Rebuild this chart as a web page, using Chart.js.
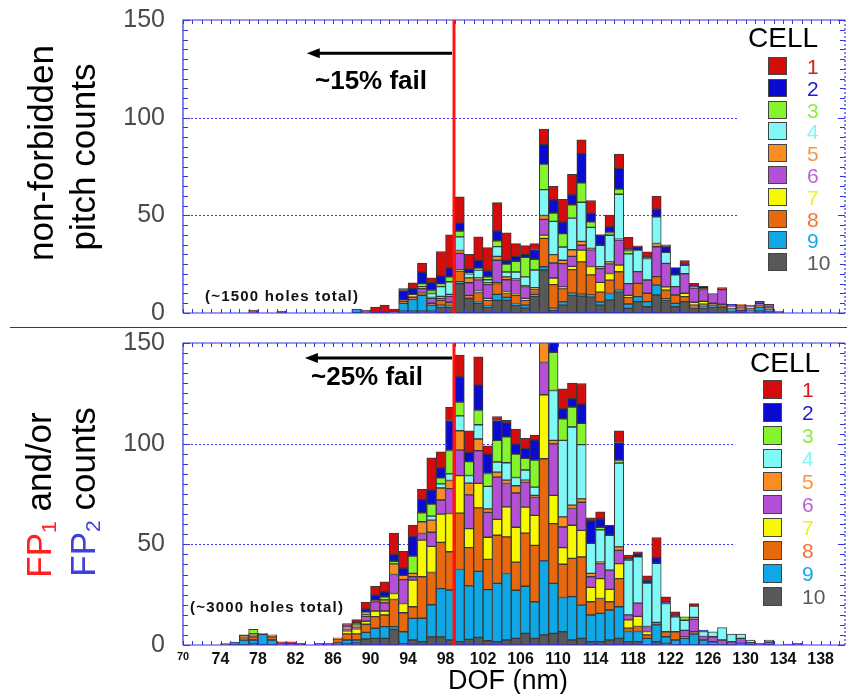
<!DOCTYPE html>
<html>
<head>
<meta charset="utf-8">
<title>DOF histograms by cell</title>
<script src="https://cdn.jsdelivr.net/npm/chart.js@4.4.1/dist/chart.umd.min.js"></script>
<style>
  html, body { margin: 0; padding: 0; background: #fff; }
  #page { position: relative; width: 847px; height: 694px; overflow: hidden;
          font-family: "Liberation Sans", Arial, Helvetica, sans-serif; color: #000; }
  .panel { position: absolute; left: 0; width: 847px; }
  #topPanel { top: 0; height: 327px; }
  #bottomPanel { top: 330px; height: 364px; }
  #divider { position: absolute; left: 10px; top: 327px; width: 837px; height: 0; border-top: 1.5px solid #3c3c3c; }
  .lbl { position: absolute; white-space: nowrap; line-height: 1; transform: translate(-50%, -50%); }
  .vlbl { position: absolute; white-space: nowrap; line-height: 1; font-size: 35px;
          transform: translate(-50%, -50%) rotate(-90deg); }
  .vlbl sub { font-size: 60%; vertical-align: -0.25em; }
  .fail { font-weight: bold; font-size: 26px; transform: translate(0, -50%); }
  .holes { font-weight: bold; font-size: 15px; letter-spacing: 1.2px; color: #111; transform: translate(0, -50%); }
  .swatch { position: absolute; border: 1.5px solid #444; box-sizing: border-box; }
  .cellnum { position: absolute; font-size: 21px; line-height: 1; transform: translateY(-50%); }
  .celltitle { position: absolute; font-size: 28px; line-height: 1; }
</style>
</head>
<body>
<div id="page">
  <div class="panel" id="topPanel"><canvas id="pitchChart"></canvas></div>
  <div class="panel" id="bottomPanel"><canvas id="fpChart"></canvas></div>
  <div id="divider"></div>

  <div class="vlbl" style="left:40px; top:153px;">non-forbidden</div>
  <div class="vlbl" style="left:82px; top:157px;">pitch counts</div>
  <div class="vlbl" style="left:40px; top:495px;"><span style="color:#ff2020">FP<sub>1</sub></span> and/or</div>
  <div class="vlbl" style="left:84px; top:492px;"><span style="color:#4040dd">FP<sub>2</sub></span> counts</div>

  <div class="lbl fail" style="left:315px; top:80px;">~15% fail</div>
  <div class="lbl holes" style="left:205px; top:295px;">(~1500 holes total)</div>
  <div class="lbl fail" style="left:311px; top:376px;">~25% fail</div>
  <div class="lbl holes" style="left:190px; top:606px;">(~3000 holes total)</div>
  <div class="lbl" style="left:508px; top:680px; font-size:27px;">DOF (nm)</div>
</div>

<script>
// 1 nm DOF bins, each bar spans [bin, bin+1)
const dofBins = [74, 75, 76, 77, 78, 79, 80, 81, 82, 83,
                 84, 85, 86, 87, 88, 89, 90, 91, 92, 93,
                 94, 95, 96, 97, 98, 99, 100, 101, 102, 103,
                 104, 105, 106, 107, 108, 109, 110, 111, 112, 113,
                 114, 115, 116, 117, 118, 119, 120, 121, 122, 123,
                 124, 125, 126, 127, 128, 129, 130, 131, 132, 133,
                 134, 135, 136];
const xTickValues = [70, 74, 78, 82, 86, 90, 94, 98, 102, 106, 110, 114, 118, 122, 126, 130, 134, 138];
const yTickValues = [0, 50, 100, 150];
const failDof = 98.9;

const cellNames = ['1', '2', '3', '4', '5', '6', '7', '8', '9', '10'];
const cellColors = ['#d40c0c', '#0a0ad0', '#84f52c', '#80f8f8', '#fb8c22',
                    '#b450d6', '#f8f800', '#e8680e', '#0ea8e6', '#585858'];
const cellTextColors = ['#e01818', '#1c1cd8', '#8cf040', '#88f4f4', '#fc9440',
                        '#b860e0', '#f0f020', '#f07434', '#18a8f0', '#5a5a5a'];

// non-forbidden pitch counts, per cell
const pitchC1 = [0,0,0,1,0,0,1,0,0,0, 0,0,0,0,0,1,3,4,1.5,1, 3,4.5,2.5,12.5,17,13.5,7.5,12,12,14.5, 14,6.5,4.5,3,8,6.8,11.6,10.6,7,6.6, 0.5,6,7.3,6,0.5,2.6,6.8,1,0,2, 1.4,0,0,1,0,0,0,0,0,0, 0,0,0];
const pitchC2 = [0,0,0,0,0,0,0,0,0,0, 0,0,0,0,0,0,0,0,0,5, 3,6,4,4,4.5,4,2,4,3,5, 2,2.5,1.5,5,10,6.8,6,5,15,4.3, 5,2.9,10.6,0.8,1.7,0.8,3.9,2.9,3.7,0.5, 0.5,1.2,0,0,0.5,0,0,1,0,0, 0,0,0];
const pitchC3 = [0,0,0,0,0,0,0,0,0,0, 0,0,0,0,0,0,0,0,0,0, 0,1.5,1.5,1.5,2.5,3,0.5,1,1.5,3, 4,5.5,10,5.5,13,4.3,6.8,6.8,9.9,2.9, 0,1.4,2.6,1.7,0,0,0,0,0,0, 0,0,0,0,0,0,0,0,0,0, 0,0,0];
const pitchC4 = [0,0,0,0,0,0,0,0,0,0, 0,0,0,0,0,0,0,0,0,0, 1,0,2,5,6.5,7,2,4,1.5,5, 2.5,3.5,4.5,9,13.3,17,6.8,16.2,20,10.7, 11,13.6,23,15.3,11,11,13.6,5.6,6,4.3, 0,0,0,0,0,0,0,0,0,0, 0,0,0];
const pitchC5 = [0,0,0,0,0,0,0,0,0,0, 0,0,0,0,0,0,0,0,0,0.5, 0.5,1,0.5,1,1,1.5,2.5,1,1,2, 1.5,0.5,0.5,1,2,4.3,1.7,3.4,2,0.8, 1,1,0.5,0,0,0,1.7,0,0,0, 0.5,0.5,0,0,0,0.5,0,0,0,0, 0,0,0];
const pitchC6 = [0,0,0,0.5,0,0,0,0,0,0, 0,0,0,0,0,0.5,0,0,0.5,0, 0,2,2.5,1,3,8.5,6.5,5.5,7,11.5, 6,7.5,6,0.5,8,7.7,12,5.1,2.5,8.5, 7,5,12.8,6,6,6.8,15.3,12,4.3,10, 7.3,6,5,7.5,1,1,1,1,1.5,0.5, 0,0,0];
const pitchC7 = [0,0,0,0,0,0,0,0,0,0, 0,0,0,0,0,0,0,0,0,0, 0,0,0,0,0,0.5,0,1,1,0.5, 1,0.5,1,0.5,1.7,3.4,0.8,1.7,6,4.3, 5,3.4,3.4,1,0,0,0,1.7,0,1.7, 1.5,1.5,0,0,0.5,0,0.5,0,0,0, 0,0,0];
const pitchC8 = [0,0,0,0,0,0,0,0,0,0, 0,0,0,0,0,0,0,0,0,1, 1,1.5,1,2.5,2,5.5,1,5,3,5.5, 2,4.5,2.5,1.5,14.5,12,6.8,12,16.5,10.2, 5,6.8,9.4,3.4,6.8,4.3,4.3,4.3,4.3,2.6, 1,1,1,1.5,1,1,1,1,1,0, 0,0,0];
const pitchC9 = [0,0,0,0,0,0,0,0,0,0, 0,0,0,0,2,0,0,0,0,4, 6,8,3,1,0.5,1,0.5,0.5,0.5,3, 1.5,0.5,1.5,1,1.7,1,1.7,1,1,1, 1.7,3.4,0.8,2.2,2.6,2.6,5.1,0.8,1.7,0, 0.5,1,1,0,0.5,0.5,1,2,1,0, 0,0,0];
const pitchC10 = [0,0,0,0,0,0,0,0,0,0, 0,0,0,0,0,0,0,0,0,1, 1,1,1,3,3,15,7.5,5,3,6.5, 6.5,4,2.5,8.5,22,1.5,4,9.2,8.7,8.3, 4,6.6,10.9,2.4,5.8,3.2,9.2,6.6,3.2,5.8, 2.5,2.5,3,3,1,1.5,0.5,1,1,0.5, 0,0,0];

// FP1 and/or FP2 counts, per cell
const fpC1 = [0,0,0,0,0,0,0.8,0.8,0.8,0, 0,0.5,0,1,1.3,3.5,4.5,5,10.7,8.3, 5.8,5,16,8,6.6,10.9,10.7,14,4.1,2, 1.3,7.4,5,2.5,6,5,9.9,7.8,10.2,1.5, 3.6,0,5.8,1.7,1.2,2.3,10,2.5,1.7,0, 1.3,0,0,0,0,0,0,0,0,0, 0,0,0];
const fpC2 = [0,0,0.5,0,0,0,0,0.4,0,0, 0,0,0,0.7,1,1.5,2.5,2.5,3.3,3.6, 9.6,6.6,7,5,14.9,12.4,4.6,12.4,9.6,9.9, 6.9,5,5,9.9,5,8,5,4.1,9.6,11.2, 4.1,5,8.7,0.8,1.3,1.3,2.8,0.8,0.8,0, 0,0.7,0,0,0,0,0,0,0,0, 0,0,0];
const fpC3 = [0,0,0,2.3,0,0,0,0,0,0, 0,0,0,0.5,0.8,1,0,1.5,1.3,0, 8.6,4.5,6,3,11.6,6.9,6.9,7.3,6.4,10.7, 12.9,11.6,5.8,13.5,6,19,10.7,9.9,10.6,0, 1.3,0,1.5,0,0,0,0,0,0,1.7, 0,0,0,0,0,0,0,0,0,0, 0,0,0];
const fpC4 = [0,0,0,0,0,0,0,0,0,0, 0,0,0,0,0,0,0,0,0,0, 0,0,2,2,3.3,7.4,3.8,7.1,11.2,5, 8.6,4.1,5,4.1,8,24.8,38,38.8,26.9,14.9, 16,17.3,41.7,27.2,23,21.5,29.4,14,7.4,5, 5.6,2.5,2.5,6.1,3.8,2.1,1.3,0,1,0, 0,0,0];
const fpC5 = [0,0,0.5,0.5,0.5,1,0,0,0,0, 0,0,0.6,1,1,1,0.7,1.5,5.3,2.1, 1.7,5.8,6,6,4,9.6,5.8,5.8,1.7,2.5, 1.7,3.6,1,0.8,10,1.7,5,1.7,1.7,1.7, 0.8,0,1.7,0,0,0,0,0,0,0, 0.8,0,0,0,0,0,0,0,0,0, 0,0,0];
const fpC6 = [0,0,0.5,1,0,0,0.8,0.4,0,0, 0.8,0.3,0,0.5,0.5,2.5,4.6,4,9.4,11.9, 1.7,3.3,7,7,12.4,12.7,16.8,16.2,12.4,21, 11.6,17,12.4,9.1,16,25.6,10.2,8.3,14,5.3, 7.4,9.6,6.6,2.5,6.6,2.5,0,0,0,3.3, 6.3,1.7,2.5,2.5,1.6,2.5,1.2,0.8,1.5,0, 0.4,0.8,0];
const fpC7 = [0,0,0,0,0,0,0,0,0,0, 0,0,0,1.5,2.5,1.5,2.8,2,3,4.6, 13.2,18.2,13,14,19,18.6,9.4,12.2,11,7.9, 14.9,17.3,12.9,14.9,31.8,14,8.3,16.5,13.2,7.1, 9.9,6.1,7.4,4.1,5,1.7,0,0,0,0, 0,0,0,0,0,0,0,0,0,0, 0,0,0];
const fpC8 = [0.7,0,1,1.5,0,1.5,0,0,0,0, 0,0,2,3,3,4,5.8,5.8,13.5,9.4, 5.8,20.6,16,23,19,28,19,31.5,15,23.9, 18.2,14,26.4,28,50.7,29.7,16.5,19,23.9,6.6, 7.4,4.1,14,1.7,2.5,1.7,1.2,2.5,4.1,0.7, 1.2,0,0,0,0,0,0,0,0,0, 0,0,0];
const fpC9 = [0,1.5,2.5,2,5.3,2.5,0,0,0,0, 0,0,1,2,1.5,3.3,5,5.8,1.3,6.1, 10.7,11.6,16,24,24.8,35.8,26.6,32.8,25.4,28.9, 33,23.9,23.4,18.2,36.8,24.8,17,21.5,16.5,13.2, 14,14.9,15.7,5,5,3.3,8.3,3.3,2.5,3.3, 5.4,2.5,1.6,0,0,0.8,0,0,0,0, 0,0,0];
const fpC10 = [0,0,0,0.5,0,0,0,0,0,0, 0,0,0,0.5,1,3,3.3,3.3,7.8,0.5, 2.5,1.7,4,4,2.5,1.7,2.8,3.8,2.1,1.7, 2.5,3.3,5.8,3.3,5,5.8,6.6,2.5,3.3,1.7, 1.7,2.5,3.3,1.7,1.7,0,1.7,0.8,0,0, 0,0,0,0,0,0,0,0,0,0, 0,0,0];

const frameBlue = '#3434e4';

// blue frame with inner ticks, dotted gridlines, DOF limit line and arrow
const panelFrame = {
  id: 'panelFrame',
  beforeDatasetsDraw(chart, args, opts) {
    const { ctx, chartArea: a, scales: { x, y } } = chart;
    const xEnd = x.getPixelForValue(opts.gridEnd);
    ctx.save();
    ctx.strokeStyle = '#3c3cff';
    ctx.lineWidth = 1;
    ctx.setLineDash([2, 2]);
    [50, 100].forEach(v => {
      const py = Math.round(y.getPixelForValue(v)) + 0.5;
      ctx.beginPath();
      ctx.moveTo(a.left, py);
      ctx.lineTo(xEnd, py);
      ctx.stroke();
    });
    ctx.restore();
  },
  afterDatasetsDraw(chart, args, opts) {
    const { ctx, chartArea: a, scales: { x, y } } = chart;
    ctx.save();
    ctx.strokeStyle = frameBlue;
    ctx.lineWidth = 1.2;
    ctx.beginPath();
    ctx.moveTo(a.left, a.bottom); ctx.lineTo(a.left, a.top); ctx.lineTo(a.right, a.top);
    ctx.moveTo(a.left, a.bottom); ctx.lineTo(a.right, a.bottom);
    ctx.stroke();
    ctx.setLineDash([2, 2]);
    ctx.beginPath();
    ctx.moveTo(a.right, a.top); ctx.lineTo(a.right, a.bottom);
    ctx.stroke();
    ctx.setLineDash([]);

    ctx.lineWidth = 1;
    ctx.beginPath();
    for (let v = 0; v <= 150; v += 5) {
      const py = Math.round(y.getPixelForValue(v)) + 0.5;
      const len = v % 50 === 0 ? 7 : 5;
      ctx.moveTo(a.left, py); ctx.lineTo(a.left + len, py);
      ctx.moveTo(a.right, py); ctx.lineTo(a.right - len, py);
    }
    for (let d = 70; d <= 140; d++) {
      const px = Math.round(x.getPixelForValue(d)) + 0.5;
      ctx.moveTo(px, a.top); ctx.lineTo(px, a.top + 4);
      ctx.moveTo(px, a.bottom); ctx.lineTo(px, a.bottom - 4);
    }
    ctx.stroke();

    // DOF limit
    const fx = x.getPixelForValue(opts.failAt);
    ctx.strokeStyle = '#ff1414';
    ctx.lineWidth = 3;
    ctx.beginPath();
    ctx.moveTo(fx, a.top); ctx.lineTo(fx, a.bottom);
    ctx.stroke();

    // arrow pointing to the failing side
    const ay = y.getPixelForValue(opts.arrowAt);
    const tip = x.getPixelForValue(opts.arrowTip);
    ctx.strokeStyle = '#000';
    ctx.fillStyle = '#000';
    ctx.lineWidth = 3;
    ctx.beginPath();
    ctx.moveTo(fx - 2, ay); ctx.lineTo(tip + 10, ay);
    ctx.stroke();
    ctx.beginPath();
    ctx.moveTo(tip, ay); ctx.lineTo(tip + 13, ay - 5); ctx.lineTo(tip + 13, ay + 5);
    ctx.closePath();
    ctx.fill();
    ctx.restore();
  }
};

Chart.defaults.font.family = '"Liberation Sans", Arial, sans-serif';

function buildPanel(canvasId, cells, cfg) {
  const datasets = cells.map((vals, i) => ({
    label: cellNames[i],
    data: vals,
    backgroundColor: cellColors[i],
    borderColor: '#383838',
    borderWidth: 1,
    borderSkipped: false,
    barPercentage: 1,
    categoryPercentage: 1,
    clip: 0
  })).reverse(); // cell 10 sits at the bottom of each stack

  return new Chart(document.getElementById(canvasId), {
    type: 'bar',
    data: { labels: dofBins.map(b => b + 0.5), datasets },
    options: {
      responsive: true,
      maintainAspectRatio: false,
      animation: false,
      layout: { padding: cfg.padding },
      plugins: {
        legend: { display: false },
        tooltip: { enabled: false },
        panelFrame: cfg.frame
      },
      scales: {
        x: {
          type: 'linear',
          stacked: true,
          offset: false,
          min: 70,
          max: 140.6,
          afterBuildTicks: s => { s.ticks = xTickValues.map(v => ({ value: v })); },
          afterFit: s => { s.height = cfg.xHeight; s.paddingLeft = 0; s.paddingRight = 0; },
          grid: { display: false, drawTicks: false },
          border: { display: false },
          ticks: {
            display: cfg.showX,
            padding: 5,
            color: '#111',
            maxRotation: 0,
            autoSkip: false,
            font: ctx => ({
              size: ctx.tick && ctx.tick.value === 70 ? 11 : 16,
              weight: 'bold',
              family: '"Liberation Sans Narrow", "Liberation Sans", Arial, sans-serif'
            })
          }
        },
        y: {
          stacked: true,
          min: 0,
          max: 150,
          afterBuildTicks: s => { s.ticks = yTickValues.map(v => ({ value: v })); },
          // fixed axis width; tick-label overflow is covered by the layout padding
          afterFit: s => { s.width = 183; s.paddingTop = 0; s.paddingBottom = 0; },
          grid: { display: false, drawTicks: false },
          border: { display: false },
          ticks: { padding: 18, color: '#4a4a4a', font: { size: 25, lineHeight: 1 } }
        }
      }
    },
    plugins: [panelFrame]
  });
}

buildPanel('pitchChart',
  [pitchC1, pitchC2, pitchC3, pitchC4, pitchC5, pitchC6, pitchC7, pitchC8, pitchC9, pitchC10],
  { padding: { top: 20, right: 2, bottom: 14, left: 0 }, xHeight: 0, showX: false,
    frame: { gridEnd: 129.2, failAt: failDof, arrowAt: 133, arrowTip: 83.2 } });

buildPanel('fpChart',
  [fpC1, fpC2, fpC3, fpC4, fpC5, fpC6, fpC7, fpC8, fpC9, fpC10],
  { padding: { top: 13, right: 2, bottom: 0, left: 0 }, xHeight: 49, showX: true,
    frame: { gridEnd: 128.8, failAt: failDof, arrowAt: 142.6, arrowTip: 83 } });

// "CELL" legends drawn beside each plot
function buildLegend(cfg) {
  const page = document.getElementById('page');
  const title = document.createElement('div');
  title.className = 'celltitle';
  title.textContent = 'CELL';
  title.style.left = cfg.titleX + 'px';
  title.style.top = cfg.titleY + 'px';
  page.appendChild(title);
  cellNames.forEach((name, i) => {
    const y = cfg.firstY + i * cfg.pitch;
    const sw = document.createElement('div');
    sw.className = 'swatch';
    Object.assign(sw.style, {
      left: cfg.swX + 'px', top: y + 'px',
      width: cfg.swW + 'px', height: cfg.swH + 'px',
      background: cellColors[i]
    });
    page.appendChild(sw);
    const num = document.createElement('div');
    num.className = 'cellnum';
    num.textContent = name;
    num.style.color = cellTextColors[i];
    num.style.left = cfg.numX + 'px';
    num.style.top = (y + cfg.swH / 2) + 'px';
    page.appendChild(num);
  });
}

buildLegend({ titleX: 748, titleY: 24, swX: 768, swW: 19, swH: 18, firstY: 57, pitch: 21.8, numX: 807 });
buildLegend({ titleX: 750, titleY: 349, swX: 763, swW: 19, swH: 18.5, firstY: 380, pitch: 23, numX: 802 });
</script>
</body>
</html>
